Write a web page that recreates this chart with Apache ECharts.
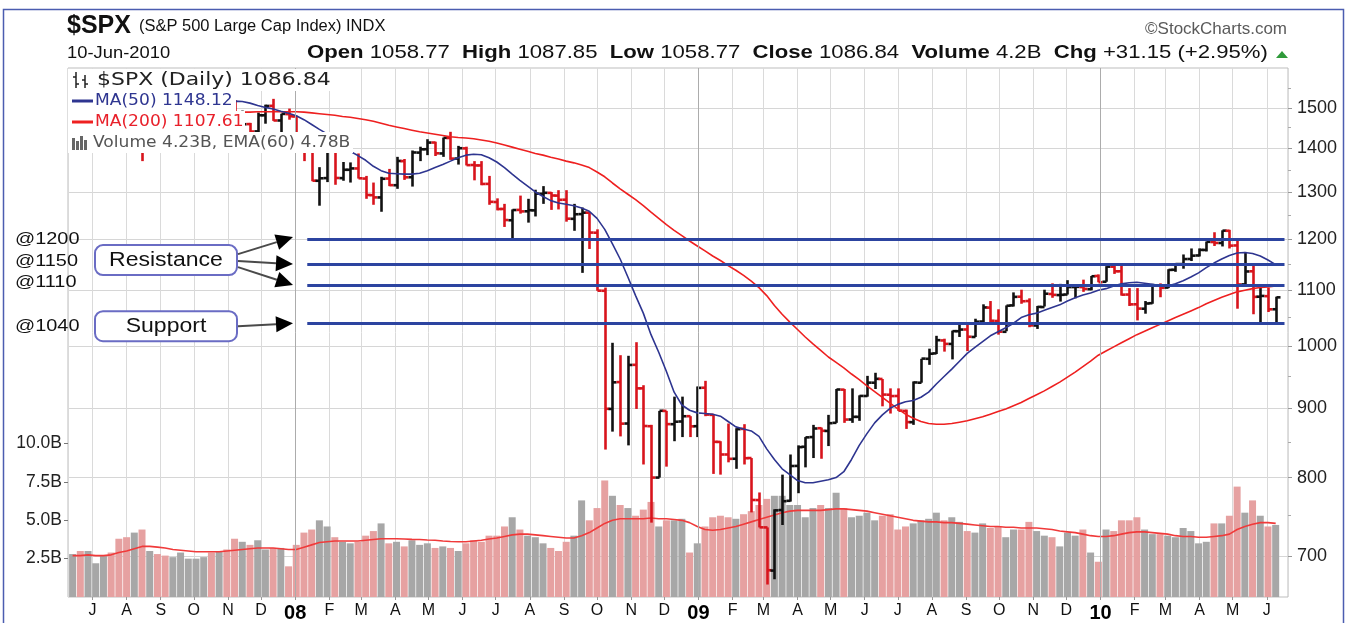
<!DOCTYPE html>
<html><head><meta charset="utf-8">
<script src="https://cdn.jsdelivr.net/npm/echarts@6/dist/echarts.min.js"></script>
<style>html,body{margin:0;padding:0;background:#fff;}#c{width:1350px;height:623px;}</style>
</head><body><div id="c"></div>
<script>
// ---- weekly data (week centre dates) ----
const weeks = [
'2007-06-13','2007-06-20','2007-06-27','2007-07-04','2007-07-11','2007-07-18','2007-07-25','2007-08-01','2007-08-08','2007-08-15','2007-08-22','2007-08-29','2007-09-05','2007-09-12','2007-09-19','2007-09-26','2007-10-03','2007-10-10','2007-10-17','2007-10-24','2007-10-31','2007-11-07','2007-11-14','2007-11-21','2007-11-28','2007-12-05','2007-12-12','2007-12-19','2007-12-26',
'2008-01-02','2008-01-09','2008-01-16','2008-01-23','2008-01-30','2008-02-06','2008-02-13','2008-02-20','2008-02-27','2008-03-05','2008-03-12','2008-03-19','2008-03-26','2008-04-02','2008-04-09','2008-04-16','2008-04-23','2008-04-30','2008-05-07','2008-05-14','2008-05-21','2008-05-28','2008-06-04','2008-06-11','2008-06-18','2008-06-25','2008-07-02','2008-07-09','2008-07-16','2008-07-23','2008-07-30','2008-08-06','2008-08-13','2008-08-20','2008-08-27','2008-09-03','2008-09-10','2008-09-17','2008-09-24','2008-10-01','2008-10-08','2008-10-15','2008-10-22','2008-10-29','2008-11-05','2008-11-12','2008-11-19','2008-11-26','2008-12-03','2008-12-10','2008-12-17','2008-12-24','2008-12-31',
'2009-01-07','2009-01-14','2009-01-21','2009-01-28','2009-02-04','2009-02-11','2009-02-18','2009-02-25','2009-03-04','2009-03-11','2009-03-18','2009-03-25','2009-04-01','2009-04-08','2009-04-15','2009-04-22','2009-04-29','2009-05-06','2009-05-13','2009-05-20','2009-05-27','2009-06-03','2009-06-10','2009-06-17','2009-06-24','2009-07-01','2009-07-08','2009-07-15','2009-07-22','2009-07-29','2009-08-05','2009-08-12','2009-08-19','2009-08-26','2009-09-02','2009-09-09','2009-09-16','2009-09-23','2009-09-30','2009-10-07','2009-10-14','2009-10-21','2009-10-28','2009-11-04','2009-11-11','2009-11-18','2009-11-25','2009-12-02','2009-12-09','2009-12-16','2009-12-23','2009-12-30',
'2010-01-06','2010-01-13','2010-01-20','2010-01-27','2010-02-03','2010-02-10','2010-02-17','2010-02-24','2010-03-03','2010-03-10','2010-03-17','2010-03-24','2010-03-31','2010-04-07','2010-04-14','2010-04-21','2010-04-28','2010-05-05','2010-05-12','2010-05-19','2010-05-26','2010-06-02','2010-06-09'];

const openP = [
1492.6,1533,1502,1504,1530,1552,1534,1459,1433,1453,1446,1479,1474,1453,1484,1526,1527,1557,1562,1500,1535,1510,1454,1459,1441,1481,1505,1468,1484,
1478,1412,1401,1325,1331,1395,1331,1350,1353,1330,1293,1288,1330,1315,1370,1333,1390,1398,1414,1388,1425,1376,1400,1361,1360,1318,1278,1263,1239,1261,1258,1260,1296,1298,1292,1283,1242,1252,1255,1213,1099,899,941,877,969,931,873,800,896,876,880,888,873,
932,890,850,832,826,869,827,770,735,683,757,769,816,843,857,870,866,878,929,883,887,919,940,946,921,919,896,879,940,979,988,1010,1004,1026,1029,1016,1043,1068,1044,1025,1072,1088,1080,1036,1069,1093,1091,1092,1106,1106,1102,1127,
1116,1145,1136,1092,1074,1066,1076,1109,1105,1139,1150,1160,1167,1178,1194,1192,1217,1187,1111,1136,1088,1089,1065];
const highP = [
1538,1540,1514,1534,1556,1556,1534,1488,1503,1466,1480,1481,1481,1485,1530,1538,1561,1576,1565,1536,1552,1520,1493,1462,1488,1508,1523,1485,1498,
1480,1428,1407,1356,1396,1396,1368,1367,1388,1336,1321,1334,1352,1380,1375,1395,1404,1422,1416,1426,1440,1406,1404,1370,1370,1336,1286,1274,1262,1292,1285,1305,1313,1300,1304,1304,1274,1266,1256,1220,1105,1006,985,984,1007,936,875,896,896,918,918,888,934,
943,891,851,877,870,876,827,780,735,758,804,832,845,857,875,871,890,930,930,931,920,951,956,946,931,931,898,942,979,996,1018,1013,1027,1040,1039,1048,1074,1080,1065,1072,1096,1101,1085,1071,1101,1113,1112,1119,1110,1120,1127,1130,
1146,1150,1150,1104,1104,1080,1112,1113,1140,1151,1169,1181,1181,1195,1214,1218,1219,1197,1174,1150,1105,1105,1088];
const lowP = [
1492,1500,1484,1503,1510,1529,1458,1432,1429,1370,1430,1432,1452,1439,1474,1516,1521,1548,1500,1490,1492,1450,1436,1406,1415,1460,1467,1435,1470,
1411,1370,1324,1270,1322,1316,1325,1321,1330,1285,1272,1257,1313,1307,1327,1312,1370,1384,1382,1380,1373,1362,1360,1326,1315,1272,1260,1225,1200,1253,1234,1247,1274,1261,1262,1236,1217,1133,1180,1099,839,865,858,845,899,818,741,800,815,851,857,857,857,
888,805,804,821,812,818,754,735,667,673,738,768,779,814,827,826,844,878,878,878,881,918,930,903,892,896,869,875,940,969,987,991,978,1016,992,1016,1039,1040,1020,1026,1070,1075,1033,1030,1070,1086,1079,1092,1085,1097,1100,1115,
1116,1131,1090,1071,1045,1057,1075,1087,1104,1135,1141,1156,1165,1175,1186,1185,1181,1066,1111,1056,1040,1060,1042];
const closeP = [
1532.9,1502.6,1503.4,1530.4,1552.5,1534.1,1458.9,1433.1,1453.6,1445.9,1479.4,1474.0,1453.6,1484.3,1525.8,1526.8,1557.6,1561.8,1500.6,1535.3,1509.7,1453.7,1458.7,1440.7,1481.1,1504.7,1468.0,1484.5,1478.5,
1411.6,1401.0,1325.2,1330.6,1395.4,1331.3,1350.0,1353.1,1330.6,1293.4,1288.1,1329.5,1315.2,1370.4,1332.8,1390.3,1397.8,1413.9,1388.3,1425.4,1375.9,1400.4,1360.7,1360.0,1317.9,1278.4,1262.9,1239.5,1260.7,1257.8,1260.3,1296.3,1298.2,1292.2,1282.8,1242.3,1251.7,1255.1,1213.3,1099.2,899.2,940.6,876.8,968.8,931.0,873.3,800.0,896.2,876.1,879.7,887.9,872.8,931.8,
890.4,850.1,832.0,825.9,868.6,826.8,770.1,735.1,683.4,756.6,768.5,815.9,842.5,856.6,869.6,866.2,877.5,929.2,882.9,887.0,919.1,940.1,946.2,921.2,918.9,896.4,879.1,940.4,979.3,987.5,1010.5,1004.1,1026.1,1028.9,1016.4,1042.7,1068.3,1044.4,1025.2,1071.5,1087.7,1079.6,1036.2,1069.3,1093.5,1091.4,1091.5,1106.0,1106.4,1102.5,1126.5,1115.1,
1145.0,1136.0,1091.8,1073.9,1066.2,1075.5,1109.2,1104.5,1138.7,1150.0,1159.9,1166.6,1178.1,1194.4,1192.1,1217.3,1186.7,1110.9,1135.7,1087.7,1089.4,1064.9,1086.8];
// average daily volume, billions
const volume = [
2.8,3.0,3.0,2.2,2.7,2.9,3.8,3.9,4.2,4.4,3.0,2.8,2.7,2.6,2.9,2.5,2.5,2.6,2.9,3.0,3.1,3.8,3.6,3.4,3.7,3.1,3.2,3.2,2.0,
3.4,4.2,4.4,5.0,4.6,3.9,3.6,3.5,3.6,4.0,4.3,4.8,3.5,3.6,3.3,3.7,3.4,3.5,3.2,3.3,3.2,3.0,3.5,3.7,3.6,4.0,4.0,4.6,5.2,4.4,4.0,3.9,3.5,3.2,3.0,3.6,4.0,6.3,5.0,5.8,7.6,6.6,6.0,5.8,5.3,5.7,6.2,4.6,5.0,5.0,5.1,2.9,3.5,
4.6,5.2,5.3,5.2,5.1,5.4,5.6,6.0,6.4,6.6,6.6,6.0,6.0,5.2,5.8,6.0,5.8,6.8,5.8,5.2,5.3,5.5,5.0,5.3,5.4,4.4,4.6,4.8,5.0,5.1,5.5,5.0,5.2,4.9,4.3,4.2,4.8,4.5,4.6,3.9,4.4,4.4,4.9,4.3,4.0,3.9,3.3,4.2,4.0,4.4,2.9,2.3,
4.4,4.3,5.0,5.0,5.2,4.4,4.1,4.1,4.0,3.9,4.5,4.3,3.5,3.6,4.8,4.8,5.3,7.2,5.5,6.3,5.3,4.6,4.7];
const ma50 = [
1497,1502,1506,1510,1513,1517,1516,1512,1506,1497,1490,1484,1477,1472,1469,1468,1471,1479,1490,1500,1512,1517,1516,1512,1506,1501,1497,1491,1486,
1480,1470,1458,1446,1435,1420,1405,1393,1383,1372,1358,1348,1342,1341,1340,1340,1342,1348,1355,1362,1370,1378,1384,1386,1385,1378,1368,1355,1340,1326,1313,1300,1290,1281,1276,1273,1270,1265,1258,1243,1220,1190,1160,1125,1090,1058,1020,990,958,925,905,897,893,
892,891,888,880,872,869,866,858,840,825,812,804,796,793,793,795,797,800,808,825,845,862,878,890,900,906,910,912,917,925,938,950,962,975,988,998,1008,1018,1025,1032,1040,1050,1055,1058,1063,1068,1073,1080,1086,1091,1095,1100,
1103,1108,1112,1114,1115,1113,1111,1109,1108,1112,1118,1125,1133,1143,1152,1160,1167,1172,1173,1171,1166,1158,1149];
const ma200 = [
1440,1444,1448,1452,1456,1460,1462,1464,1466,1467,1468,1470,1471,1473,1475,1477,1479,1482,1484,1486,1488,1489,1489,1489,1490,1490,1490,1490,1490,
1490,1489,1487,1485,1483,1481,1478,1476,1473,1470,1466,1461,1456,1452,1448,1444,1440,1437,1434,1431,1428,1426,1425,1423,1420,1417,1413,1408,1403,1398,1393,1388,1384,1379,1375,1370,1366,1361,1355,1345,1334,1320,1307,1295,1283,1270,1256,1243,1230,1218,1207,1196,1186,
1176,1166,1157,1147,1138,1128,1117,1105,1090,1072,1056,1042,1029,1016,1004,993,982,973,964,954,945,935,926,917,908,899,891,885,880,877,876,876,877,879,881,884,887,891,895,899,904,909,915,921,927,934,941,949,957,966,975,985,
992,999,1006,1013,1020,1026,1032,1038,1044,1050,1056,1062,1068,1075,1081,1087,1092,1097,1100,1103,1105,1106,1108];
const volEma = [
2.7,2.7,2.75,2.7,2.7,2.75,2.9,3.0,3.15,3.3,3.3,3.25,3.2,3.1,3.05,3.0,2.95,2.95,2.95,2.95,3.0,3.05,3.1,3.15,3.2,3.2,3.2,3.15,3.1,
3.1,3.25,3.4,3.55,3.6,3.65,3.65,3.65,3.65,3.7,3.75,3.8,3.8,3.8,3.78,3.76,3.75,3.72,3.7,3.65,3.62,3.6,3.6,3.65,3.7,3.78,3.85,3.95,4.05,4.1,4.1,4.05,4.0,3.95,3.9,3.85,3.85,4.0,4.2,4.5,4.8,5.0,5.1,5.1,5.1,5.1,5.15,5.1,5.1,5.05,5.0,4.85,4.6,
4.4,4.35,4.4,4.5,4.6,4.75,4.9,5.05,5.2,5.35,5.5,5.6,5.65,5.65,5.65,5.65,5.7,5.75,5.75,5.7,5.65,5.6,5.5,5.4,5.3,5.2,5.1,5.0,4.95,4.9,4.9,4.85,4.85,4.8,4.75,4.7,4.65,4.6,4.6,4.55,4.55,4.5,4.5,4.5,4.45,4.4,4.3,4.25,4.2,4.1,4.0,3.95,
3.95,4.0,4.1,4.2,4.25,4.25,4.2,4.15,4.1,4.0,3.95,3.95,3.9,3.9,3.95,4.0,4.1,4.4,4.6,4.75,4.85,4.85,4.8];

// ---- axis / annotation constants ----
const priceTicks = [700,800,900,1000,1100,1200,1300,1400,1500];
const minorPriceTicks = [750,850,950,1050,1150,1250,1350,1450,1550];
const volTicks = [2.5,5,7.5,10];
const levels = [1200,1150,1110,1040];
const monthInitials = ['J','F','M','A','M','J','J','A','S','O','N','D'];
const yearStarts = ['2008-01-01','2009-01-01','2010-01-01'];
const axisStart = '2007-06-12', axisEnd = '2010-06-17', levelLineStart = '2008-01-12';

const T = s => new Date(s + 'T00:00:00').getTime();
const tw = weeks.map(T);
const isUp = i => closeP[i] >= (i > 0 ? closeP[i - 1] : openP[i]);
const RED = '#d8141c', BLK = '#111111';

const chart = echarts.init(document.getElementById('c'), null, {renderer: 'canvas', width: 1350, height: 623});

const option = {
  animation: false,
  backgroundColor: '#ffffff',
  grid: {left: 68, right: 62, top: 68, bottom: 25, show: true, borderColor: '#bdbdbd', borderWidth: 1, backgroundColor: '#fff'},
  xAxis: {
    type: 'time', min: T(axisStart), max: T(axisEnd),
    splitNumber: 40, minInterval: 28 * 864e5, maxInterval: 31 * 864e5,
    axisLine: {show: false},
    axisTick: {show: true, length: 3, lineStyle: {color: '#999'}},
    axisLabel: {
      interval: 0, margin: 6, hideOverlap: false, showMinLabel: false, showMaxLabel: false,
      formatter: function (v) {
        const d = new Date(v);
        if (d.getMonth() === 0) return '{y|' + String(d.getFullYear()).slice(2) + '}';
        return '{m|' + monthInitials[d.getMonth()] + '}';
      },
      rich: {
        m: {fontFamily: 'Liberation Sans', fontSize: 16, color: '#111'},
        y: {fontFamily: 'Liberation Sans', fontSize: 20, fontWeight: 'bold', color: '#000'}
      }
    },
    splitLine: {show: true, lineStyle: {color: '#dadada', width: 1}}
  },
  yAxis: [
    {
      type: 'log', position: 'right', min: 653, max: 1605,
      axisLine: {show: false},
      axisTick: {show: true, length: 4, customValues: priceTicks, lineStyle: {color: '#999'}},
      axisLabel: {customValues: priceTicks, margin: 9, fontFamily: 'Liberation Sans', fontSize: 18, color: '#222',
        formatter: v => String(Math.round(v))},
      splitLine: {show: true, lineStyle: {color: '#d6d6d6', width: 1}}
    },
    {
      type: 'value', position: 'left', min: 0, max: 34.5,
      axisLine: {show: false},
      axisTick: {show: true, length: 4, customValues: volTicks, lineStyle: {color: '#777'}},
      axisLabel: {customValues: volTicks, margin: 6, fontFamily: 'Liberation Sans', fontSize: 17.5, color: '#222',
        formatter: v => v.toFixed(1) + 'B'},
      splitLine: {show: false}
    },
    {
      type: 'log', position: 'right', min: 653, max: 1605,
      axisLine: {show: false}, axisLabel: {show: false}, splitLine: {show: false},
      axisTick: {show: true, length: 3, customValues: minorPriceTicks, lineStyle: {color: '#aaa'}}
    }
  ],
  series: [
    {
      type: 'bar', name: 'Volume', yAxisIndex: 1, barWidth: 7, z: 1,
      data: tw.map((t, i) => ({value: [t, volume[i]], itemStyle: {color: isUp(i) ? '#a7a7a7' : '#e6a1a1'}})),
      markLine: {
        silent: true, symbol: 'none', label: {show: false},
        lineStyle: {color: '#acacac', width: 1, type: 'solid'},
        data: yearStarts.map(s => ({xAxis: T(s)}))
      }
    },
    {
      type: 'line', name: 'EMA(60)', yAxisIndex: 1, z: 2, showSymbol: false,
      data: tw.map((t, i) => [t, volEma[i]]),
      lineStyle: {color: '#f03a3a', width: 1.6}
    },
    {
      type: 'custom', name: '$SPX', yAxisIndex: 0, z: 3,
      data: tw.map((t, i) => [t, openP[i], highP[i], lowP[i], closeP[i]]),
      encode: {x: 0, y: [1, 2, 3, 4]},
      renderItem: function (params, api) {
        const t = api.value(0);
        const pO = api.coord([t, api.value(1)]);
        const pH = api.coord([t, api.value(2)]);
        const pL = api.coord([t, api.value(3)]);
        const pC = api.coord([t, api.value(4)]);
        const col = isUp(params.dataIndex) ? BLK : RED;
        const x = Math.round(pO[0]) + 0.5;
        const st = {stroke: col, lineWidth: 2.6};
        return {type: 'group', children: [
          {type: 'line', shape: {x1: x, y1: pH[1], x2: x, y2: pL[1]}, style: st},
          {type: 'line', shape: {x1: x - 4, y1: pO[1], x2: x, y2: pO[1]}, style: st},
          {type: 'line', shape: {x1: x, y1: pC[1], x2: x + 4, y2: pC[1]}, style: st}
        ]};
      }
    },
    {
      type: 'line', name: 'MA(200)', yAxisIndex: 0, z: 4, showSymbol: false,
      data: tw.map((t, i) => [t, ma200[i]]),
      lineStyle: {color: '#ee2020', width: 1.6}
    },
    {
      type: 'line', name: 'MA(50)', yAxisIndex: 0, z: 4, showSymbol: false,
      data: tw.map((t, i) => [t, ma50[i]]),
      lineStyle: {color: '#2e3590', width: 1.6},
      markLine: {
        silent: true, symbol: 'none', label: {show: false}, z: 6,
        lineStyle: {color: '#2c44a0', width: 3, type: 'solid'},
        data: levels.map(l => [{coord: [T(levelLineStart), l]}, {coord: [T(axisEnd), l]}])
      }
    }
  ]
};
chart.setOption(option);

// ---- overlay: header, legend, annotations ----
const yOf = v => chart.convertToPixel({yAxisIndex: 0}, v);
const SX = 1.17;
function txt(x, y, text, font, fill, extra) {
  return Object.assign({type: 'text', x: x, y: y, scaleX: SX, z: 120,
    style: {text: text, font: font, fill: fill || '#111', textAlign: 'left', textVerticalAlign: 'middle', verticalAlign: 'middle'}}, extra || {});
}
function arrow(x1, y1, x2, y2) {
  const dx = x2 - x1, dy = y2 - y1, len = Math.hypot(dx, dy);
  const ux = dx / len, uy = dy / len, L = 17, W = 8;
  const bx = x2 - ux * L, by = y2 - uy * L;
  return [
    {type: 'line', z: 120, shape: {x1: x1, y1: y1, x2: bx, y2: by}, style: {stroke: '#4a4a4a', lineWidth: 2}},
    {type: 'polygon', z: 121, shape: {points: [[x2, y2], [bx - uy * W, by + ux * W], [bx + uy * W, by - ux * W]]}, style: {fill: '#000'}}
  ];
}
const g = [];
// outer frame
g.push({type: 'rect', z: 130, shape: {x: 3.5, y: 9.5, width: 1340, height: 660}, style: {fill: 'none', stroke: '#4b5db0', lineWidth: 1.5}});
// header
g.push(txt(67, 26, '$SPX', 'bold 25px "Liberation Sans"', '#111', {scaleX: 1}));
g.push(txt(139, 27, '(S&P 500 Large Cap Index) INDX', '16px "Liberation Sans"', '#111', {scaleX: 1.03}));
g.push(txt(67, 53, '10-Jun-2010', '17px "Liberation Sans"', '#111', {scaleX: 1.08}));
g.push({type: 'text', x: 307, y: 53, scaleX: 1.197, z: 120, style: {
  text: '{b|Open} {n|1058.77}  {b|High} {n|1087.85}  {b|Low} {n|1058.77}  {b|Close} {n|1086.84}  {b|Volume} {n|4.2B}  {b|Chg} {n|+31.15 (+2.95%)}',
  font: '18.5px "Liberation Sans"', fill: '#111', textAlign: 'left', textVerticalAlign: 'middle', verticalAlign: 'middle',
  rich: {b: {fontFamily: 'Liberation Sans', fontWeight: 'bold', fontSize: 18.5, fill: '#111'}, n: {fontFamily: 'Liberation Sans', fontSize: 18.5, fill: '#111'}}
}});
g.push({type: 'polygon', z: 120, shape: {points: [[1276, 58], [1288, 58], [1282, 51]]}, style: {fill: '#2f9a3a'}});
g.push({type: 'text', x: 1287, y: 29, z: 120, style: {text: '\u00A9StockCharts.com', font: '17px "Liberation Sans"', fill: '#5a5a5a', textAlign: 'right', textVerticalAlign: 'middle', verticalAlign: 'middle'}});
// legend background boxes (opaque, like the source)
[[68, 69, 271, 22], [68, 91, 168, 20], [68, 111, 177, 21], [68, 132, 285, 21]].forEach(b => {
  g.push({type: 'rect', z: 110, shape: {x: b[0], y: b[1], width: b[2], height: b[3]}, style: {fill: '#fff'}});
});
// legend line 1 icon (two small OHLC bars)
[[76, 72, 88], [85, 75, 88]].forEach(b => {
  g.push({type: 'line', z: 120, shape: {x1: b[0], y1: b[1], x2: b[0], y2: b[2]}, style: {stroke: '#222', lineWidth: 1.5}});
  g.push({type: 'line', z: 120, shape: {x1: b[0] - 3, y1: b[1] + 5, x2: b[0], y2: b[1] + 5}, style: {stroke: '#222', lineWidth: 1.5}});
  g.push({type: 'line', z: 120, shape: {x1: b[0], y1: b[2] - 4, x2: b[0] + 3, y2: b[2] - 4}, style: {stroke: '#222', lineWidth: 1.5}});
});
g.push(txt(97, 80, '$SPX (Daily) 1086.84', '18px "DejaVu Sans"', '#222', {scaleX: 1.22}));
g.push({type: 'line', z: 120, shape: {x1: 72, y1: 101, x2: 93, y2: 101}, style: {stroke: '#2e3590', lineWidth: 3}});
g.push(txt(95, 101, 'MA(50) 1148.12', '15px "DejaVu Sans"', '#2e3590', {scaleX: 1.14}));
g.push({type: 'line', z: 120, shape: {x1: 72, y1: 122, x2: 93, y2: 122}, style: {stroke: '#ee2020', lineWidth: 3}});
g.push(txt(95, 122, 'MA(200) 1107.61', '15px "DejaVu Sans"', '#e8202a', {scaleX: 1.14}));
[[72, 138, 12], [76, 141, 9], [80, 136, 14], [84, 140, 10]].forEach(b => {
  g.push({type: 'rect', z: 120, shape: {x: b[0], y: b[1], width: 3, height: b[2]}, style: {fill: '#666'}});
});
g.push(txt(93, 143, 'Volume 4.23B, EMA(60) 4.78B', '15px "DejaVu Sans"', '#555', {scaleX: 1.14}));

// level annotations
const ly = levels.map(yOf);
const labelShift = [0, -3, -3, 3];
levels.forEach((l, i) => g.push(txt(15, ly[i] + labelShift[i], '@' + l, '17px "Liberation Sans"', '#111', {scaleX: 1.17})));
const resY = ly[1] - 4, supY = ly[3] + 3;
[['Resistance', resY], ['Support', supY]].forEach(b => {
  g.push({type: 'rect', z: 120, shape: {x: 95, y: b[1] - 15, width: 142, height: 30, r: 8}, style: {fill: '#fff', stroke: '#6a6cc4', lineWidth: 2}});
  g.push({type: 'text', x: 166, y: b[1], scaleX: 1.15, z: 121, style: {text: b[0], font: '20px "Liberation Sans"', fill: '#111', textAlign: 'center', textVerticalAlign: 'middle', verticalAlign: 'middle'}});
});
const tipX = 293;
arrow(238, resY - 6, tipX, ly[0] - 2).forEach(e => g.push(e));
arrow(238, resY + 1, tipX, ly[1]).forEach(e => g.push(e));
arrow(238, resY + 7, tipX, ly[2]).forEach(e => g.push(e));
arrow(238, supY, tipX, ly[3]).forEach(e => g.push(e));

chart.setOption({graphic: {elements: g}});
</script>
</body></html>
